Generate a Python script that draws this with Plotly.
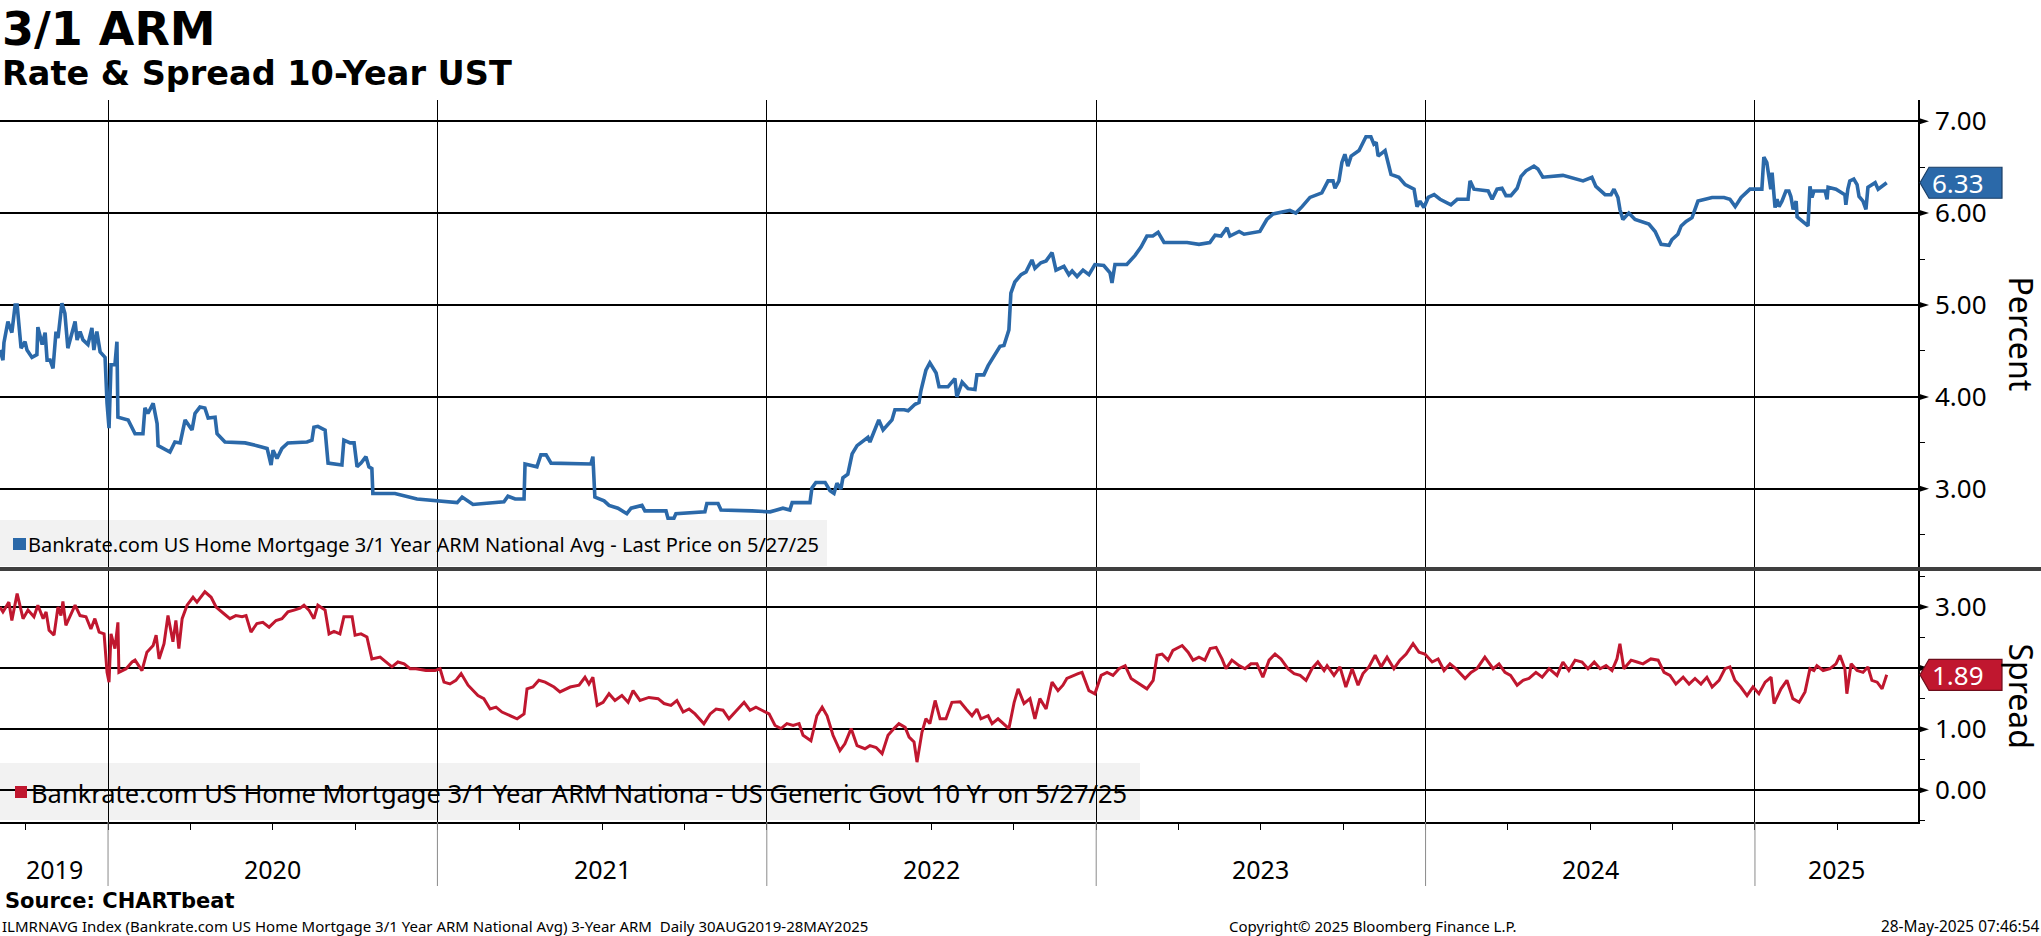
import plotly.graph_objects as go

# ---------------- data (decimal years) ----------------
rate_t = [
2019.672, 2019.681, 2019.684, 2019.696, 2019.708, 2019.718, 2019.724, 2019.736, 2019.748, 2019.754,
2019.769, 2019.784, 2019.787, 2019.800, 2019.809, 2019.815, 2019.824, 2019.833, 2019.842, 2019.848,
2019.860, 2019.869, 2019.878, 2019.900, 2019.906, 2019.915, 2019.924, 2019.939, 2019.951, 2019.957,
2019.966, 2019.976, 2019.991, 2019.997, 2020.003, 2020.009, 2020.021, 2020.027, 2020.030, 2020.061,
2020.082, 2020.106, 2020.112, 2020.121, 2020.137, 2020.149, 2020.152, 2020.188, 2020.203, 2020.219,
2020.234, 2020.255, 2020.264, 2020.279, 2020.294, 2020.304, 2020.325, 2020.331, 2020.355, 2020.416,
2020.452, 2020.483, 2020.495, 2020.501, 2020.513, 2020.528, 2020.546, 2020.604, 2020.619, 2020.625,
2020.637, 2020.659, 2020.668, 2020.710, 2020.716, 2020.735, 2020.747, 2020.756, 2020.768, 2020.783,
2020.792, 2020.801, 2020.804, 2020.871, 2020.938, 2021.005, 2021.060, 2021.075, 2021.108, 2021.141,
2021.202, 2021.214, 2021.236, 2021.263, 2021.266, 2021.302, 2021.314, 2021.330, 2021.345, 2021.466,
2021.472, 2021.478, 2021.506, 2021.521, 2021.548, 2021.575, 2021.588, 2021.621, 2021.630, 2021.694,
2021.700, 2021.718, 2021.724, 2021.812, 2021.818, 2021.852, 2021.861, 2021.955, 2022.010, 2022.049,
2022.070, 2022.077, 2022.131, 2022.137, 2022.149, 2022.177, 2022.192, 2022.204, 2022.213, 2022.225,
2022.231, 2022.246, 2022.259, 2022.274, 2022.307, 2022.313, 2022.319, 2022.340, 2022.353, 2022.380,
2022.389, 2022.417, 2022.429, 2022.450, 2022.462, 2022.468, 2022.483, 2022.495, 2022.514, 2022.523,
2022.550, 2022.571, 2022.577, 2022.593, 2022.611, 2022.632, 2022.638, 2022.659, 2022.672, 2022.693,
2022.708, 2022.720, 2022.729, 2022.735, 2022.741, 2022.753, 2022.772, 2022.787, 2022.805, 2022.814,
2022.832, 2022.848, 2022.866, 2022.878, 2022.902, 2022.917, 2022.927, 2022.942, 2022.960, 2022.978,
2022.996, 2023.023, 2023.042, 2023.048, 2023.057, 2023.093, 2023.118, 2023.136, 2023.154, 2023.172,
2023.188, 2023.206, 2023.276, 2023.312, 2023.345, 2023.361, 2023.379, 2023.397, 2023.406, 2023.434,
2023.449, 2023.497, 2023.518, 2023.537, 2023.588, 2023.606, 2023.625, 2023.649, 2023.685, 2023.704,
2023.719, 2023.725, 2023.737, 2023.746, 2023.755, 2023.764, 2023.774, 2023.798, 2023.819, 2023.834,
2023.843, 2023.850, 2023.856, 2023.877, 2023.886, 2023.895, 2023.919, 2023.938, 2023.965, 2023.974,
2023.983, 2023.995, 2024.008, 2024.026, 2024.044, 2024.077, 2024.096, 2024.129, 2024.135, 2024.147,
2024.190, 2024.202, 2024.217, 2024.232, 2024.244, 2024.259, 2024.278, 2024.290, 2024.305, 2024.329,
2024.341, 2024.356, 2024.417, 2024.478, 2024.505, 2024.517, 2024.545, 2024.563, 2024.572, 2024.584,
2024.590, 2024.599, 2024.617, 2024.636, 2024.678, 2024.697, 2024.715, 2024.739, 2024.748, 2024.766,
2024.776, 2024.791, 2024.809, 2024.818, 2024.827, 2024.870, 2024.906, 2024.924, 2024.940, 2024.958,
2024.985, 2025.021, 2025.027, 2025.036, 2025.048, 2025.052, 2025.061, 2025.067, 2025.073, 2025.082,
2025.094, 2025.103, 2025.109, 2025.116, 2025.125, 2025.128, 2025.143, 2025.161, 2025.167, 2025.173,
2025.179, 2025.213, 2025.219, 2025.222, 2025.246, 2025.273, 2025.276, 2025.282, 2025.288, 2025.300,
2025.310, 2025.316, 2025.328, 2025.337, 2025.343, 2025.365, 2025.374, 2025.386, 2025.400]

rate_v = [
4.51, 4.40, 4.59, 4.82, 4.70, 5.00, 5.00, 4.53, 4.60, 4.51,
4.43, 4.46, 4.76, 4.57, 4.70, 4.40, 4.40, 4.31, 4.71, 4.64,
5.02, 4.91, 4.53, 4.82, 4.62, 4.71, 4.62, 4.57, 4.75, 4.51,
4.71, 4.49, 4.43, 3.93, 3.66, 4.35, 4.35, 4.60, 3.78, 3.75,
3.60, 3.60, 3.88, 3.82, 3.93, 3.71, 3.47, 3.40, 3.51, 3.50,
3.75, 3.64, 3.82, 3.89, 3.88, 3.77, 3.78, 3.60, 3.51, 3.50,
3.47, 3.44, 3.26, 3.42, 3.33, 3.44, 3.50, 3.51, 3.53, 3.67,
3.68, 3.64, 3.28, 3.26, 3.53, 3.50, 3.50, 3.24, 3.28, 3.35,
3.24, 3.22, 2.95, 2.95, 2.89, 2.87, 2.85, 2.91, 2.83, 2.84,
2.86, 2.92, 2.89, 2.89, 3.27, 3.24, 3.37, 3.37, 3.28, 3.27,
3.35, 2.91, 2.87, 2.82, 2.79, 2.73, 2.79, 2.82, 2.76, 2.76,
2.68, 2.68, 2.73, 2.75, 2.84, 2.84, 2.77, 2.76, 2.75, 2.79,
2.77, 2.85, 2.85, 3.01, 3.07, 3.07, 2.98, 2.95, 3.06, 3.00,
3.12, 3.16, 3.38, 3.47, 3.56, 3.51, 3.56, 3.75, 3.64, 3.75,
3.86, 3.86, 3.85, 3.92, 3.94, 4.07, 4.29, 4.37, 4.26, 4.11,
4.11, 4.20, 4.00, 4.16, 4.09, 4.08, 4.24, 4.24, 4.34, 4.46,
4.55, 4.56, 4.68, 4.73, 5.13, 5.25, 5.33, 5.36, 5.49, 5.40,
5.46, 5.48, 5.57, 5.38, 5.42, 5.33, 5.37, 5.31, 5.38, 5.33,
5.44, 5.43, 5.35, 5.24, 5.44, 5.44, 5.54, 5.63, 5.75, 5.75,
5.79, 5.68, 5.68, 5.66, 5.68, 5.76, 5.75, 5.84, 5.75, 5.80,
5.77, 5.80, 5.93, 5.99, 6.03, 6.00, 6.07, 6.17, 6.22, 6.35,
6.35, 6.27, 6.35, 6.55, 6.64, 6.51, 6.62, 6.68, 6.83, 6.83,
6.75, 6.77, 6.62, 6.68, 6.55, 6.42, 6.39, 6.31, 6.26, 6.07,
6.13, 6.06, 6.17, 6.20, 6.15, 6.09, 6.15, 6.15, 6.35, 6.26,
6.24, 6.15, 6.26, 6.27, 6.19, 6.19, 6.27, 6.40, 6.46, 6.51,
6.48, 6.39, 6.41, 6.35, 6.39, 6.29, 6.20, 6.20, 6.26, 6.17,
6.04, 5.93, 6.00, 5.93, 5.88, 5.80, 5.66, 5.65, 5.71, 5.77,
5.86, 5.91, 5.95, 6.04, 6.13, 6.17, 6.17, 6.15, 6.07, 6.17,
6.26, 6.26, 6.61, 6.55, 6.26, 6.44, 6.06, 6.15, 6.07, 6.13,
6.24, 6.24, 6.18, 6.04, 6.13, 5.96, 5.91, 5.86, 6.29, 6.17,
6.24, 6.24, 6.15, 6.28, 6.26, 6.20, 6.09, 6.26, 6.35, 6.37,
6.31, 6.18, 6.13, 6.04, 6.28, 6.33, 6.26, 6.29, 6.33]

spread_t = [
2019.672, 2019.681, 2019.699, 2019.708, 2019.724, 2019.742, 2019.757, 2019.775, 2019.787, 2019.803,
2019.812, 2019.821, 2019.836, 2019.848, 2019.857, 2019.863, 2019.872, 2019.885, 2019.900, 2019.915,
2019.933, 2019.948, 2019.960, 2019.973, 2019.988, 2019.997, 2020.003, 2020.009, 2020.021, 2020.030,
2020.033, 2020.055, 2020.073, 2020.082, 2020.103, 2020.118, 2020.137, 2020.146, 2020.155, 2020.170,
2020.182, 2020.197, 2020.206, 2020.215, 2020.225, 2020.240, 2020.258, 2020.270, 2020.294, 2020.313,
2020.328, 2020.352, 2020.370, 2020.388, 2020.407, 2020.419, 2020.434, 2020.452, 2020.470, 2020.489,
2020.510, 2020.528, 2020.546, 2020.565, 2020.583, 2020.595, 2020.610, 2020.625, 2020.637, 2020.659,
2020.671, 2020.686, 2020.704, 2020.716, 2020.741, 2020.750, 2020.768, 2020.786, 2020.801, 2020.826,
2020.844, 2020.862, 2020.880, 2020.899, 2020.917, 2020.935, 2020.965, 2020.993, 2021.008, 2021.020,
2021.038, 2021.056, 2021.072, 2021.093, 2021.123, 2021.141, 2021.160, 2021.178, 2021.196, 2021.223,
2021.242, 2021.263, 2021.272, 2021.290, 2021.308, 2021.327, 2021.354, 2021.372, 2021.403, 2021.430,
2021.448, 2021.460, 2021.472, 2021.485, 2021.503, 2021.521, 2021.539, 2021.560, 2021.579, 2021.594,
2021.615, 2021.642, 2021.670, 2021.688, 2021.709, 2021.727, 2021.746, 2021.764, 2021.782, 2021.809,
2021.828, 2021.846, 2021.867, 2021.885, 2021.903, 2021.922, 2021.931, 2021.949, 2021.967, 2021.985,
2022.007, 2022.025, 2022.043, 2022.061, 2022.080, 2022.098, 2022.110, 2022.134, 2022.152, 2022.168,
2022.183, 2022.201, 2022.222, 2022.237, 2022.256, 2022.274, 2022.298, 2022.313, 2022.332, 2022.350,
2022.368, 2022.386, 2022.401, 2022.420, 2022.432, 2022.447, 2022.456, 2022.471, 2022.483, 2022.495,
2022.511, 2022.526, 2022.544, 2022.562, 2022.587, 2022.605, 2022.623, 2022.638, 2022.650, 2022.672,
2022.684, 2022.702, 2022.720, 2022.735, 2022.751, 2022.763, 2022.781, 2022.799, 2022.814, 2022.829,
2022.848, 2022.866, 2022.884, 2022.899, 2022.911, 2022.930, 2022.945, 2022.957, 2022.978, 2022.996,
2023.015, 2023.033, 2023.051, 2023.069, 2023.088, 2023.106, 2023.136, 2023.154, 2023.173, 2023.185,
2023.200, 2023.218, 2023.233, 2023.261, 2023.279, 2023.294, 2023.312, 2023.330, 2023.346, 2023.364,
2023.382, 2023.394, 2023.412, 2023.434, 2023.452, 2023.470, 2023.488, 2023.506, 2023.525, 2023.543,
2023.561, 2023.582, 2023.601, 2023.619, 2023.637, 2023.655, 2023.673, 2023.692, 2023.701, 2023.722,
2023.740, 2023.758, 2023.777, 2023.795, 2023.810, 2023.828, 2023.847, 2023.865, 2023.883, 2023.904,
2023.922, 2023.941, 2023.962, 2023.980, 2023.998, 2024.020, 2024.038, 2024.056, 2024.074, 2024.092,
2024.120, 2024.138, 2024.156, 2024.180, 2024.205, 2024.223, 2024.241, 2024.258, 2024.278, 2024.296,
2024.314, 2024.335, 2024.354, 2024.375, 2024.399, 2024.417, 2024.435, 2024.454, 2024.475, 2024.493,
2024.512, 2024.530, 2024.548, 2024.566, 2024.581, 2024.590, 2024.602, 2024.624, 2024.642, 2024.660,
2024.684, 2024.706, 2024.724, 2024.742, 2024.760, 2024.782, 2024.800, 2024.818, 2024.836, 2024.854,
2024.870, 2024.891, 2024.909, 2024.924, 2024.939, 2024.957, 2024.976, 2024.994, 2025.012, 2025.031,
2025.049, 2025.058, 2025.079, 2025.097, 2025.115, 2025.134, 2025.152, 2025.167, 2025.179, 2025.188,
2025.207, 2025.228, 2025.246, 2025.258, 2025.273, 2025.279, 2025.292, 2025.310, 2025.328, 2025.343,
2025.355, 2025.371, 2025.386, 2025.400]

spread_v = [
3.00, 2.92, 3.08, 2.78, 3.22, 2.81, 2.95, 2.84, 3.03, 2.81,
2.92, 2.62, 2.54, 3.00, 2.86, 3.09, 2.70, 2.86, 3.03, 2.86,
2.84, 2.64, 2.81, 2.59, 2.56, 1.93, 1.77, 2.56, 2.32, 2.75,
1.93, 1.99, 2.10, 2.13, 1.96, 2.26, 2.37, 2.54, 2.15, 2.40,
2.86, 2.43, 2.78, 2.32, 2.81, 3.03, 3.16, 3.08, 3.25, 3.16,
3.00, 2.89, 2.81, 2.86, 2.84, 2.86, 2.59, 2.73, 2.75, 2.67,
2.78, 2.81, 2.92, 2.95, 2.98, 3.03, 2.95, 2.81, 3.03, 2.95,
2.56, 2.60, 2.56, 2.84, 2.84, 2.54, 2.56, 2.51, 2.15, 2.18,
2.10, 2.02, 2.10, 2.07, 1.99, 1.99, 1.96, 1.96, 1.99, 1.77,
1.74, 1.80, 1.91, 1.72, 1.55, 1.50, 1.33, 1.36, 1.28, 1.22,
1.17, 1.25, 1.66, 1.69, 1.80, 1.77, 1.69, 1.61, 1.69, 1.72,
1.85, 1.74, 1.85, 1.39, 1.44, 1.58, 1.47, 1.55, 1.44, 1.63,
1.47, 1.52, 1.50, 1.42, 1.39, 1.47, 1.28, 1.33, 1.25, 1.09,
1.25, 1.33, 1.31, 1.17, 1.28, 1.39, 1.44, 1.31, 1.36, 1.31,
1.25, 1.06, 1.01, 1.09, 1.06, 1.09, 0.90, 0.81, 1.22, 1.36,
1.22, 0.90, 0.65, 0.76, 1.01, 0.73, 0.68, 0.73, 0.70, 0.60,
0.90, 1.01, 1.09, 1.03, 0.87, 0.79, 0.46, 0.95, 1.17, 1.09,
1.47, 1.17, 1.17, 1.44, 1.45, 1.33, 1.22, 1.33, 1.17, 1.22,
1.09, 1.17, 1.09, 1.01, 1.44, 1.66, 1.42, 1.50, 1.17, 1.50,
1.33, 1.77, 1.63, 1.72, 1.83, 1.88, 1.91, 1.93, 1.63, 1.58,
1.88, 1.93, 1.88, 1.99, 2.04, 1.83, 1.72, 1.66, 1.80, 2.21,
2.23, 2.13, 2.29, 2.37, 2.26, 2.13, 2.18, 2.13, 2.32, 2.34,
2.15, 1.99, 2.13, 2.04, 1.99, 2.07, 2.07, 1.85, 2.13, 2.23,
2.15, 1.99, 1.91, 1.88, 1.80, 1.99, 2.10, 1.96, 2.04, 1.88,
2.02, 1.69, 1.99, 1.72, 1.91, 2.02, 2.21, 2.02, 2.18, 1.99,
2.13, 2.23, 2.40, 2.26, 2.23, 2.10, 2.15, 1.96, 2.07, 1.99,
1.83, 1.93, 1.99, 2.18, 1.99, 2.07, 1.93, 1.88, 1.72, 1.80,
1.83, 1.93, 1.85, 1.99, 1.88, 2.10, 1.96, 2.13, 2.10, 1.99,
2.10, 1.99, 2.04, 1.96, 2.15, 2.40, 1.99, 2.13, 2.10, 2.07,
2.15, 2.13, 1.93, 1.88, 1.74, 1.85, 1.74, 1.83, 1.74, 1.85,
1.69, 1.80, 1.99, 2.02, 1.80, 1.69, 1.55, 1.69, 1.58, 1.77,
1.85, 1.42, 1.66, 1.80, 1.50, 1.44, 1.61, 1.99, 1.96, 2.04,
1.96, 1.99, 2.07, 2.21, 1.99, 1.58, 2.07, 1.96, 1.93, 2.02,
1.80, 1.77, 1.66, 1.89]

year_bounds = [2020, 2021, 2022, 2023, 2024, 2025]
year_labels = ["2019", "2020", "2021", "2022", "2023", "2024", "2025"]
rate_ticks = [3, 4, 5, 6, 7]
spread_ticks = [0, 1, 2, 3]
x_range = [2019.672, 2025.495]
rate_range = [2.15, 7.23]
spread_range = [-0.52, 3.59]

title = "3/1 ARM"
subtitle = "Rate & Spread 10-Year UST"
rate_name = "Bankrate.com US Home Mortgage 3/1 Year ARM National Avg - Last Price on 5/27/25"
spread_name = "Bankrate.com US Home Mortgage 3/1 Year ARM Nationa - US Generic Govt 10 Yr on 5/27/25"
source = "Source: CHARTbeat"
footnote = "ILMRNAVG Index (Bankrate.com US Home Mortgage 3/1 Year ARM National Avg) 3-Year ARM&nbsp; Daily 30AUG2019-28MAY2025"
copyright_txt = "Copyright\u00a9 2025 Bloomberg Finance L.P."
stamp = "28-May-2025 07:46:54"

BLUE = "#2b69a9"
BLUE_EDGE = "#1b3f66"
RED = "#c0172f"
RED_EDGE = "#6e0d1b"
FONT = "Noto Sans"
BOLD = "DejaVu Sans"

# ---------------- geometry helpers (figure pixels -> paper) ----------------
W, H = 2041, 936
L, R, T, B = 0, 1918, 100, 822


def px(xp):
    return (xp - L) / (R - L)


def py(yp):
    return (B - yp) / (B - T)


fig = go.Figure()
fig.add_trace(go.Scatter(x=rate_t, y=rate_v, xaxis="x2", yaxis="y", mode="lines",
                         line=dict(color=BLUE, width=3.6), hoverinfo="skip"))
fig.add_trace(go.Scatter(x=spread_t, y=spread_v, xaxis="x", yaxis="y2", mode="lines",
                         line=dict(color=RED, width=3.0), hoverinfo="skip"))

quarters = [y + q for y in range(2019, 2026) for q in (0.0, 0.25, 0.5, 0.75)
            if x_range[0] < y + q < x_range[1]]
half_rate = [v + 0.5 for v in range(2, 8)]
half_spread = [v - 0.5 for v in range(0, 5)]

tickfont = dict(family=FONT, size=26, color="black")

fig.update_layout(
    width=W, height=H,
    margin=dict(l=L, r=W - R, t=T, b=H - B),
    paper_bgcolor="white", plot_bgcolor="white", showlegend=False,
    xaxis=dict(domain=[0, 1], anchor="y2", range=x_range, tickmode="array",
               tickvals=year_bounds, showticklabels=False, ticks="",
               showgrid=True, gridcolor="black", gridwidth=1,
               showline=True, linecolor="black", linewidth=1.5, zeroline=False,
               minor=dict(tickmode="array", tickvals=quarters, ticks="outside",
                          ticklen=6, tickwidth=1, tickcolor="black", showgrid=False)),
    xaxis2=dict(domain=[0, 1], anchor="y", matches="x", range=x_range, tickmode="array",
                tickvals=year_bounds, showticklabels=False, ticks="",
                showgrid=True, gridcolor="black", gridwidth=1, zeroline=False, showline=False),
    yaxis=dict(domain=[py(567), 1], anchor="x2", side="right", range=rate_range,
               tickmode="array", tickvals=rate_ticks, ticktext=[f"{v:.2f}" for v in rate_ticks],
               showgrid=True, gridcolor="black", gridwidth=1.5, zeroline=False,
               showline=True, linecolor="black", linewidth=1.5, ticks="",
               ticklabelstandoff=10, tickfont=tickfont,
               minor=dict(tickmode="array", tickvals=half_rate, ticks="outside",
                          ticklen=5, tickwidth=1, tickcolor="black", showgrid=False)),
    yaxis2=dict(domain=[0, py(571)], anchor="x", side="right", range=spread_range,
                tickmode="array", tickvals=spread_ticks, ticktext=[f"{v:.2f}" for v in spread_ticks],
                showgrid=True, gridcolor="black", gridwidth=1.5, zeroline=False,
                showline=True, linecolor="black", linewidth=1.5, ticks="",
                ticklabelstandoff=10, tickfont=tickfont,
                minor=dict(tickmode="array", tickvals=half_spread, ticks="outside",
                           ticklen=5, tickwidth=1, tickcolor="black", showgrid=False)),
)

shapes = []
# legend boxes (below grid lines)
shapes.append(dict(type="rect", xref="paper", yref="paper", x0=px(0), x1=px(827), y0=py(566), y1=py(520),
                   fillcolor="#f2f2f2", line=dict(width=0), layer="below"))
shapes.append(dict(type="rect", xref="paper", yref="paper", x0=px(0), x1=px(1140), y0=py(820), y1=py(763),
                   fillcolor="#f2f2f2", line=dict(width=0), layer="below"))
# legend colour squares
shapes.append(dict(type="rect", xref="paper", yref="paper", x0=px(13), x1=px(26), y0=py(550), y1=py(538),
                   fillcolor=BLUE, line=dict(width=0), layer="above"))
shapes.append(dict(type="rect", xref="paper", yref="paper", x0=px(15), x1=px(27), y0=py(798), y1=py(786),
                   fillcolor=RED, line=dict(width=0), layer="above"))
# panel separator
shapes.append(dict(type="line", xref="paper", yref="paper", x0=0, x1=W / (R - L), y0=py(569), y1=py(569),
                   line=dict(color="#3f3f3f", width=4), layer="above"))
# year divider extensions through the label band
for yb in year_bounds:
    shapes.append(dict(type="line", xref="x", yref="paper", x0=yb, x1=yb, y0=py(886), y1=py(822),
                       line=dict(color="#8a8a8a", width=1), layer="above"))
# triangle major ticks on the right axes
for v in rate_ticks:
    shapes.append(dict(type="path", xref="paper", yref="y", xsizemode="pixel", ysizemode="pixel",
                       xanchor=1, yanchor=v, path="M0,-3.5 L11,0 L0,3.5 Z",
                       fillcolor="black", line=dict(width=0), layer="above"))
for v in spread_ticks:
    shapes.append(dict(type="path", xref="paper", yref="y2", xsizemode="pixel", ysizemode="pixel",
                       xanchor=1, yanchor=v, path="M0,-3.5 L11,0 L0,3.5 Z",
                       fillcolor="black", line=dict(width=0), layer="above"))
# last value tags
tag_path = "M2,0 L11,15.5 L84,15.5 L84,-15.5 L11,-15.5 Z"
shapes.append(dict(type="path", xref="paper", yref="y", xsizemode="pixel", ysizemode="pixel",
                   xanchor=1, yanchor=rate_v[-1], path=tag_path,
                   fillcolor=BLUE, line=dict(color=BLUE_EDGE, width=1.2), layer="above"))
shapes.append(dict(type="path", xref="paper", yref="y2", xsizemode="pixel", ysizemode="pixel",
                   xanchor=1, yanchor=spread_v[-1], path=tag_path,
                   fillcolor=RED, line=dict(color=RED_EDGE, width=1.2), layer="above"))
fig.update_layout(shapes=shapes)

ann = []
ann.append(dict(text=f"<b>{title}</b>", xref="paper", yref="paper", x=px(0), y=py(29),
                xanchor="left", yanchor="middle", showarrow=False,
                font=dict(family=BOLD, size=46, color="black")))
ann.append(dict(text=f"<b>{subtitle}</b>", xref="paper", yref="paper", x=px(0), y=py(73),
                xanchor="left", yanchor="middle", showarrow=False,
                font=dict(family=BOLD, size=33.5, color="black")))
ann.append(dict(text=rate_name, xref="paper", yref="paper", x=px(26), y=py(544),
                xanchor="left", yanchor="middle", showarrow=False,
                font=dict(family=FONT, size=20, color="black")))
ann.append(dict(text=spread_name, xref="paper", yref="paper", x=px(29), y=py(793),
                xanchor="left", yanchor="middle", showarrow=False,
                font=dict(family=FONT, size=25.5, color="black")))
# axis titles
ann.append(dict(text="Percent", xref="paper", yref="paper", x=px(2021), y=(py(567) + 1) / 2,
                xanchor="center", yanchor="middle", showarrow=False, textangle=90,
                font=dict(family=FONT, size=32, color="black")))
ann.append(dict(text="Spread", xref="paper", yref="paper", x=px(2021), y=py(571) / 2,
                xanchor="center", yanchor="middle", showarrow=False, textangle=90,
                font=dict(family=FONT, size=32, color="black")))
# last value texts
ann.append(dict(text=f"{rate_v[-1]:.2f}", xref="paper", yref="y", x=1, xshift=40, y=rate_v[-1],
                xanchor="center", yanchor="middle", showarrow=False, borderpad=0,
                font=dict(family=FONT, size=26, color="white")))
ann.append(dict(text=f"{spread_v[-1]:.2f}", xref="paper", yref="y2", x=1, xshift=40, y=spread_v[-1],
                xanchor="center", yanchor="middle", showarrow=False, borderpad=0,
                font=dict(family=FONT, size=26, color="white")))
# year labels centred in each visible year segment
edges = [x_range[0]] + year_bounds + [x_range[1]]
for lab, a, b in zip(year_labels, edges[:-1], edges[1:]):
    ann.append(dict(text=lab, xref="x", yref="paper", x=(a + b) / 2, y=py(869),
                    xanchor="center", yanchor="middle", showarrow=False,
                    font=dict(family=FONT, size=25, color="black")))
# footer
ann.append(dict(text=f"<b>{source}</b>", xref="paper", yref="paper", x=px(3), y=py(901),
                xanchor="left", yanchor="middle", showarrow=False,
                font=dict(family=BOLD, size=21, color="black")))
ann.append(dict(text=footnote, xref="paper", yref="paper", x=px(0), y=py(926),
                xanchor="left", yanchor="middle", showarrow=False,
                font=dict(family=FONT, size=15, color="black")))
ann.append(dict(text=copyright_txt, xref="paper", yref="paper", x=px(1227), y=py(926),
                xanchor="left", yanchor="middle", showarrow=False,
                font=dict(family=FONT, size=15, color="black")))
ann.append(dict(text=stamp, xref="paper", yref="paper", x=px(W), y=py(926),
                xanchor="right", yanchor="middle", showarrow=False,
                font=dict(family=FONT, size=15.4, color="black")))
fig.update_layout(annotations=ann)

fig.write_html("out.html", config={"displayModeBar": False},
               post_script="document.body.style.margin='0px';document.body.style.overflow='hidden';")
